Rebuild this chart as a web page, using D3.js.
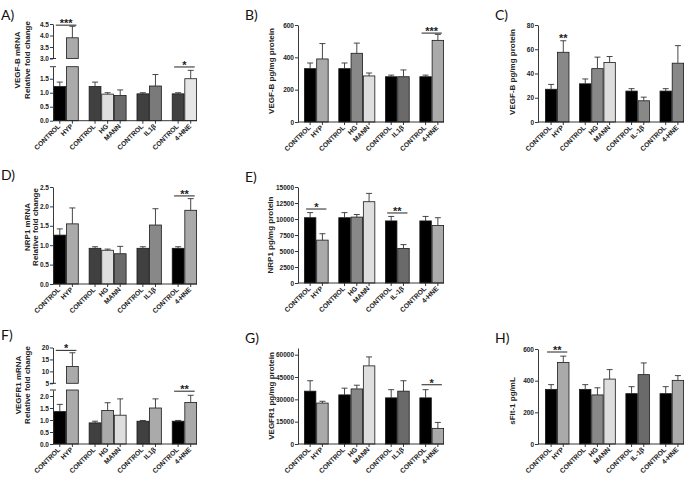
<!DOCTYPE html>
<html><head><meta charset="utf-8">
<script src="https://cdn.jsdelivr.net/npm/d3@7"></script>
<style>body{margin:0;background:#fff}svg{display:block}</style>
</head><body><svg id="c" width="690" height="483"></svg>
<script>
// ---------- DATA ----------
const labelsA = ["CONTROL","HYP","CONTROL","HG","MANN","CONTROL","IL1β","CONTROL","4-HNE"];
const labelsB = ["CONTROL","HYP","CONTROL","HG","MANN","CONTROL","IL-1β","CONTROL","4-HNE"];
const groupOf = [0,0,1,1,1,2,2,3,3];

const vegfbMrnaMean = [1.22,3.9,1.22,0.95,0.9,0.96,1.24,0.96,1.5];
const vegfbMrnaErr  = [0.16,0.5,0.16,0.05,0.2,0.04,0.41,0.04,0.3];
const vegfbProtMean = [330,390,330,425,285,280,280,280,505];
const vegfbProtErr  = [35,95,35,63,18,10,42,10,37];
const vegfbProt2Mean = [27,57.5,31.5,44,49,25.5,17.5,25.5,48.5];
const vegfbProt2Err  = [4,9.5,4,9.5,5,2,3,2,14.5];
const nrp1MrnaMean = [1.26,1.55,0.92,0.87,0.78,0.92,1.52,0.92,1.9];
const nrp1MrnaErr  = [0.16,0.41,0.04,0.03,0.19,0.04,0.42,0.04,0.3];
const nrp1ProtMean = [10200,6700,10200,10300,12700,9700,5400,9700,9000];
const nrp1ProtErr  = [800,1000,800,400,1300,700,600,700,1200];
const vegfr1MrnaMean = [1.35,12,0.88,1.4,1.2,0.95,1.5,0.95,1.73];
const vegfr1MrnaErr  = [0.3,5.8,0.07,0.32,0.68,0.03,0.38,0.03,0.3];
const vegfr1ProtMean = [35500,27500,33000,37000,52500,31000,35500,31000,10500];
const vegfr1ProtErr  = [7000,1200,4500,2500,6000,5500,7000,5500,4000];
const sflt1Mean = [345,515,345,310,410,318,438,318,402];
const sflt1Err  = [30,40,30,45,60,44,74,44,30];

const ticksALow = [0,0.5,1.0,1.5], ticksAHigh = [3.0,3.5,4.0,4.5];
const ticksB = [0,200,400,600];
const ticksC = [0,20,40,60,80];
const ticksD = [0,0.5,1.0,1.5,2.0,2.5];
const ticksE = [0,2500,5000,7500,10000,12500,15000];
const ticksFLow = [0,0.5,1.0,1.5,2.0], ticksFHigh = [5,10,15,20];
const ticksG = [0,15000,30000,45000,60000];
const ticksH = [0,200,400,600];

const sigA = [{a:0,b:1,level:4.45,text:"***"},{a:7,b:8,level:1.92,text:"*"}];
const sigB = [{a:7,b:8,level:550,text:"***"}];
const sigC = [{a:1,b:1,level:69,text:"**"}];
const sigD = [{a:7,b:8,level:2.27,text:"**"}];
const sigE = [{a:0,b:1,level:11560,text:"*"},{a:5,b:6,level:10940,text:"**"}];
const sigF = [{a:0,b:1,level:18.8,text:"*"},{a:7,b:8,level:2.2,text:"**"}];
const sigG = [{a:7,b:8,level:39800,text:"*"}];
const sigH = [{a:0,b:1,level:581,text:"**"}];

// ---------- STYLES ----------
const K="#000", D="#404040", M="#6a6a6a", G="#888", L="#aaa", W="#dedede";
const colA = [K,L,D,W,M,D,"#7a7a7a",D,"#e6e6e6"];
const colB = [K,L,K,G,W,K,M,K,L];
const colC = [K,G,K,G,W,K,G,K,G];
const colD = [K,L,D,W,M,D,G,K,L];
const colF = [K,L,D,L,W,D,L,K,L];

const FONT = "'Liberation Sans', Arial, sans-serif";
const GAP = 0.8;
const cols = [{ax:53, b0:53.5, b1:197},{ax:298, b0:304, b1:444},{ax:538, b0:545, b1:684}];

const panels = [
 {id:"A)", lx:1, ly:20, col:0, labels:labelsA, mean:vegfbMrnaMean, err:vegfbMrnaErr, colors:colA, sig:sigA,
  title:["VEGF-B mRNA","Relative fold change"], tx:[17,27], ty:60,
  segs:[{domain:[0,1.93],range:[120.7,66.7],ticks:ticksALow,fmt:".1f"},{domain:[3.0,4.5],range:[58.5,24],ticks:ticksAHigh,fmt:".1f"}]},
 {id:"B)", lx:245, ly:20, col:1, labels:labelsA, mean:vegfbProtMean, err:vegfbProtErr, colors:colB, sig:sigB,
  title:["VEGF-B pg/mg protein"], tx:[271], ty:71,
  segs:[{domain:[0,600],range:[122,25],ticks:ticksB,fmt:"d"}]},
 {id:"C)", lx:495, ly:20, col:2, labels:labelsB, mean:vegfbProt2Mean, err:vegfbProt2Err, colors:colC, sig:sigC,
  title:["VEGF-B pg/mg protein"], tx:[512], ty:72,
  segs:[{domain:[0,80],range:[122,25],ticks:ticksC,fmt:"d"}]},
 {id:"D)", lx:1, ly:180, col:0, labels:labelsA, mean:nrp1MrnaMean, err:nrp1MrnaErr, colors:colD, sig:sigD,
  title:["NRP1 mRNA","Relative fold change"], tx:[27,35], ty:227,
  segs:[{domain:[0,2.5],range:[284,187],ticks:ticksD,fmt:".1f"}]},
 {id:"E)", lx:245, ly:182, col:1, labels:labelsB, mean:nrp1ProtMean, err:nrp1ProtErr, colors:colB, sig:sigE,
  title:["NRP1 pg/mg protein"], tx:[270], ty:235,
  segs:[{domain:[0,15000],range:[283,187],ticks:ticksE,fmt:"d"}]},
 {id:"F)", lx:1, ly:340, col:0, labels:labelsA, mean:vegfr1MrnaMean, err:vegfr1MrnaErr, colors:colF, sig:sigF,
  title:["VEGFR1 mRNA","Relative fold change"], tx:[18,27], ty:385,
  segs:[{domain:[0,2.25],range:[444,390],ticks:ticksFLow,fmt:".1f"},{domain:[5,20],range:[383.3,347.5],ticks:ticksFHigh,fmt:"d"}]},
 {id:"G)", lx:245, ly:343, col:1, labels:labelsA, mean:vegfr1ProtMean, err:vegfr1ProtErr, colors:colB, sig:sigG,
  title:["VEGFR1 pg/mg protein"], tx:[271], ty:396,
  segs:[{domain:[0,64500],range:[444,348],ticks:ticksG,fmt:"d"}]},
 {id:"H)", lx:495, ly:343, col:2, labels:labelsB, mean:sflt1Mean, err:sflt1Err, colors:colB, sig:sigH,
  title:["sFlt-1 pg/mL"], tx:[512], ty:401,
  segs:[{domain:[0,600],range:[444,349],ticks:ticksH,fmt:"d"}]}
];

const svg = d3.select("#c");

panels.forEach(p => {
  const c = cols[p.col];
  const g = svg.append("g");
  const x = d3.scaleLinear().domain([0, 9 + 3*GAP]).range([c.b0, c.b1]);
  const unit = x(1) - x(0);
  const left = i => x(i + groupOf[i]*GAP);
  const cx = i => left(i) + unit/2;
  const segs = p.segs.map(s => Object.assign({}, s, {scale: d3.scaleLinear().domain(s.domain).range(s.range)}));
  const yv = v => {
    for (let k = segs.length-1; k > 0; k--) if (v >= segs[k].domain[0]) return segs[k].scale(Math.min(v, segs[k].domain[1]));
    return segs[0].scale(Math.min(v, segs[0].domain[1]));
  };
  const base = segs[0].scale(0);

  // panel letter
  g.append("text").attr("x", p.lx).attr("y", p.ly).text(p.id)
    .attr("font-family","Lato, 'Open Sans', sans-serif").attr("font-size",14).attr("fill","#111");

  // bars (split across an axis break)
  p.mean.forEach((m,i) => {
    const rectStyle = sel => sel.attr("x", left(i)+0.4).attr("width", unit-0.8)
      .attr("fill", p.colors[i]).attr("stroke","#1a1a1a").attr("stroke-width",0.8);
    if (segs.length > 1 && m >= segs[1].domain[0]) {
      const lowTop = segs[0].scale(segs[0].domain[1]);
      g.append("rect").call(rectStyle).attr("y", lowTop).attr("height", base - lowTop);
      const upBot = segs[1].scale(segs[1].domain[0]);
      g.append("rect").call(rectStyle).attr("y", yv(m)).attr("height", upBot - yv(m));
    } else {
      g.append("rect").call(rectStyle).attr("y", yv(m)).attr("height", base - yv(m));
    }
    const top = yv(m + p.err[i]);
    g.append("line").attr("x1",cx(i)).attr("x2",cx(i)).attr("y1",yv(m)).attr("y2",top)
      .attr("stroke","#333").attr("stroke-width",0.9);
    g.append("line").attr("x1",cx(i)-3).attr("x2",cx(i)+3).attr("y1",top).attr("y2",top)
      .attr("stroke","#333").attr("stroke-width",0.9);
  });

  // y axes
  segs.forEach((s,k) => {
    const ax = d3.axisLeft(s.scale).tickValues(s.ticks).tickSize(3)
      .tickSizeOuter(0).tickFormat(d3.format(s.fmt));
    const a = g.append("g").attr("transform",`translate(${c.ax},0)`).call(ax);
    a.selectAll("path,line").attr("stroke","#222").attr("stroke-width",0.9);
    a.selectAll("text").attr("font-family",FONT).attr("font-weight","bold").attr("font-size",6.5).attr("fill","#222").attr("x",-4);
    if (segs.length > 1) {
      const yEnd = k === 0 ? s.scale(s.domain[1]) : s.scale(s.domain[0]);
      g.append("line").attr("x1",c.ax-3).attr("x2",c.ax+3).attr("y1",yEnd).attr("y2",yEnd)
        .attr("stroke","#222").attr("stroke-width",0.9);
    }
  });

  // x axis
  g.append("line").attr("x1",c.ax).attr("x2",c.b1).attr("y1",base).attr("y2",base).attr("stroke","#222").attr("stroke-width",0.9);
  p.labels.forEach((lab,i) => {
    g.append("line").attr("x1",cx(i)).attr("x2",cx(i)).attr("y1",base).attr("y2",base+3).attr("stroke","#222").attr("stroke-width",0.9);
    g.append("text").text(lab).attr("text-anchor","end")
      .attr("transform",`translate(${cx(i)+1},${base+6}) rotate(-45)`)
      .attr("font-family",FONT).attr("font-weight","bold").attr("font-size",6.8).attr("fill","#222");
  });

  // y title
  p.title.forEach((t,k) => {
    g.append("text").text(t).attr("text-anchor","middle")
      .attr("transform",`translate(${p.tx[k]+3},${p.ty}) rotate(-90)`)
      .attr("font-family",FONT).attr("font-weight","bold").attr("font-size",8).attr("fill","#222");
  });

  // significance
  p.sig.forEach(s => {
    const yy = yv(s.level);
    const xa = s.a === s.b ? cx(s.a) : cx(s.a) - 4;
    const xb = s.a === s.b ? cx(s.b) : cx(s.b) + 4;
    if (s.a !== s.b) g.append("line").attr("x1",xa).attr("x2",xb).attr("y1",yy).attr("y2",yy).attr("stroke","#222").attr("stroke-width",1);
    g.append("text").text(s.text).attr("text-anchor","middle").attr("x",(xa+xb)/2).attr("y", s.a===s.b ? yy+4 : yy+2)
      .attr("font-family",FONT).attr("font-weight","bold").attr("font-size",11).attr("fill","#222");
  });
});
</script></body></html>
